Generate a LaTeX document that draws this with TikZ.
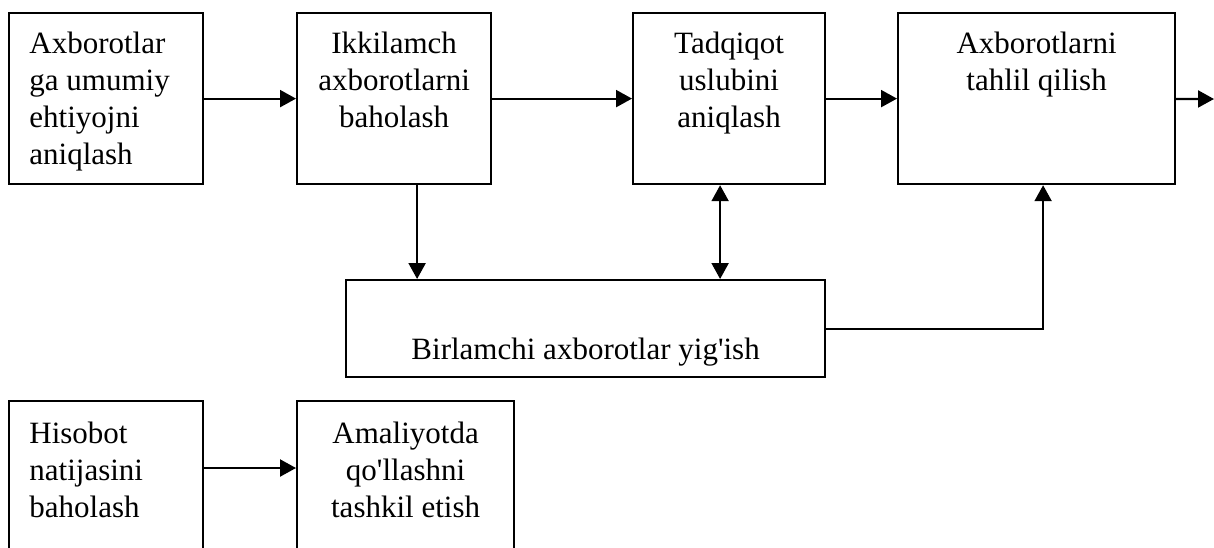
\documentclass[tikz,border=0pt]{standalone}
\usepackage{fontspec}
\newfontfamily\boxfont{Liberation Serif}
\usetikzlibrary{calc,arrows.meta,positioning}

\tikzset{
  blok/.style={draw, line width=1.1pt, anchor=north west, inner sep=0pt, minimum height=85.5pt},
  matn/.style={font=\boxfont\fontsize{15.5pt}{18.5pt}\selectfont, inner sep=0pt, align=center, anchor=north, yshift=-10pt},
  matnl/.style={matn, align=left, anchor=north west, xshift=10.5pt},
  strelka/.style={line width=1.1pt, -{Triangle[length=8pt,width=8.5pt]}},
  strelka2/.style={line width=1.1pt, {Triangle[length=8pt,width=8.5pt]}-{Triangle[length=8pt,width=8.5pt]}}
}

\begin{document}
\begin{tikzpicture}[x=0.5pt,y=-0.5pt]
\useasboundingbox (0,0) rectangle (1214,547);
\clip (0,0) rectangle (1214,547);

% yuqori qator
\node[blok, minimum width=97pt, label={[matnl]north west:Axborotlar\\ga umumiy\\ehtiyojni\\aniqlash}] (ehtiyoj) at (8,12) {};
\node[blok, minimum width=97pt, label={[matn]north:Ikkilamch\\axborotlarni\\baholash}] (baho) at (296,12) {};
\node[blok, minimum width=96pt, label={[matn]north:Tadqiqot\\uslubini\\aniqlash}] (uslub) at (632,12) {};
\node[blok, minimum width=138.5pt, label={[matn]north:Axborotlarni\\tahlil qilish}] (tahlil) at (897,12) {};

% o'rta
\node[blok, minimum width=239.5pt, minimum height=48.5pt, label={[matn, anchor=south, yshift=16pt]south:Birlamchi axborotlar yig'ish}] (yigish) at (345,279) {};

% pastki qator
\node[blok, minimum width=97pt, minimum height=100pt, label={[matnl, yshift=-1pt]north west:Hisobot\\natijasini\\baholash}] (hisobot) at (8,400) {};
\node[blok, minimum width=108.5pt, minimum height=100pt, label={[matn, yshift=-1pt]north:Amaliyotda\\qo'llashni\\tashkil etish}] (amaliyot) at (296,400) {};

\coordinate (chiqish) at (1214,99);
\coordinate (p1) at ($(baho.south)+(23,0)$);
\coordinate (p2) at ($(uslub.south)+(-9,0)$);
\coordinate (p3) at ($(tahlil.south)+(6.5,0)$);
\coordinate (q) at (0,468);

\draw[strelka] (ehtiyoj) -- (baho);
\draw[strelka] (baho) -- (uslub);
\draw[strelka] (uslub) -- (tahlil);
\draw[strelka] (tahlil) -- (chiqish);
\draw[strelka] (p1) -- (p1 |- yigish.north);
\draw[strelka2] (p2) -- (p2 |- yigish.north);
\draw[strelka] (yigish.east) -| (p3);
\draw[strelka] (hisobot.east |- q) -- (amaliyot.west |- q);
\end{tikzpicture}
\end{document}
